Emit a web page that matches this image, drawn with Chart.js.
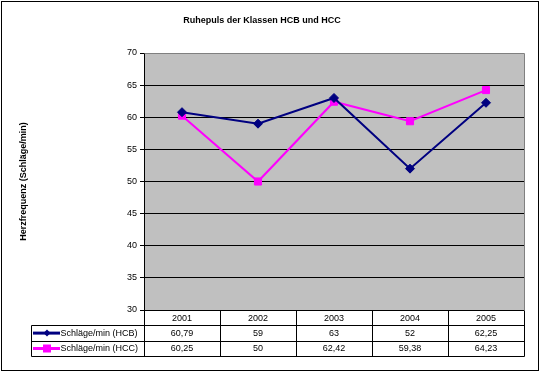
<!DOCTYPE html>
<html>
<head>
<meta charset="utf-8">
<script src="https://cdn.jsdelivr.net/npm/chart.js@4"></script>
<style>
  body { margin: 0; background: #fff; }
</style>
</head>
<body>
<canvas id="chart" width="540" height="374"></canvas>
<script>
// Data
const years = ['2001', '2002', '2003', '2004', '2005'];
const hcb = [60.79, 59, 63, 52, 62.25];
const hcc = [60.25, 50, 62.42, 59.38, 64.23];
const seriesNames = ['Schläge/min (HCB)', 'Schläge/min (HCC)'];
const yMin = 30, yMax = 70, yStep = 5;

const FONT = "'Liberation Sans', Arial, sans-serif";
const fmt = v => String(v).replace('.', ',');

// Excel style: grey plot area, data table under the chart
const excelFrame = {
    id: 'excelFrame',
    beforeDraw: (chart) => {
        const { ctx, chartArea: a } = chart;
        ctx.save();
        ctx.fillStyle = '#C0C0C0';
        ctx.fillRect(a.left, a.top, a.width, a.height);
        ctx.restore();
    },
    afterDraw: (chart) => {
        const { ctx, chartArea: a } = chart;
        const px = v => Math.round(v) + 0.5;
        ctx.save();

        // grey border top/right of plot area
        ctx.strokeStyle = '#808080';
        ctx.lineWidth = 1;
        ctx.beginPath();
        ctx.moveTo(px(a.left), px(a.top));
        ctx.lineTo(px(a.right), px(a.top));
        ctx.lineTo(px(a.right), px(a.bottom));
        ctx.stroke();

        // data table
        const rowH = 15.4;
        const tableLeft = 31;
        const y0 = a.bottom, y1 = y0 + rowH, y2 = y1 + rowH, y3 = y2 + rowH;
        const colW = a.width / years.length;

        ctx.strokeStyle = '#000';
        ctx.beginPath();
        [y1, y2, y3].forEach(y => {
            ctx.moveTo(px(tableLeft), px(y));
            ctx.lineTo(px(a.right), px(y));
        });
        ctx.moveTo(px(tableLeft), px(y1));
        ctx.lineTo(px(tableLeft), px(y3));
        for (let i = 0; i <= years.length; i++) {
            const x = px(a.left + i * colW);
            ctx.moveTo(x, px(y0));
            ctx.lineTo(x, px(y3));
        }
        ctx.stroke();

        ctx.fillStyle = '#000';
        ctx.font = '9px ' + FONT;
        ctx.textAlign = 'center';
        ctx.textBaseline = 'middle';
        const xs = chart.scales.x;
        years.forEach((yr, i) => {
            const cx = xs.getPixelForValue(i);
            ctx.fillText(yr, cx, y0 + rowH / 2 + 0.5);
            ctx.fillText(fmt(hcb[i]), cx, y1 + rowH / 2 + 0.5);
            ctx.fillText(fmt(hcc[i]), cx, y2 + rowH / 2 + 0.5);
        });

        // legend keys inside the table
        chart.data.datasets.forEach((ds, i) => {
            const cy = (i === 0 ? y1 : y2) + rowH / 2;
            ctx.strokeStyle = ds.borderColor;
            ctx.lineWidth = 3;
            ctx.beginPath();
            ctx.moveTo(33, cy);
            ctx.lineTo(60, cy);
            ctx.stroke();
            ctx.fillStyle = ds.borderColor;
            ctx.beginPath();
            if (ds.pointStyle === 'rectRot') {
                ctx.moveTo(47, cy - 3.5);
                ctx.lineTo(50.5, cy);
                ctx.lineTo(47, cy + 3.5);
                ctx.lineTo(43.5, cy);
                ctx.closePath();
            } else {
                ctx.rect(43, cy - 4, 8, 8);
            }
            ctx.fill();
            ctx.fillStyle = '#000';
            ctx.textAlign = 'left';
            ctx.fillText(seriesNames[i], 60.5, cy + 0.5);
        });

        // outer chart border
        ctx.strokeStyle = '#000';
        ctx.lineWidth = 1;
        ctx.strokeRect(1.5, 1.5, 537, 369);
        ctx.restore();
    }
};

new Chart(document.getElementById('chart'), {
    type: 'line',
    data: {
        labels: years,
        datasets: [{
            label: seriesNames[0],
            data: hcb,
            borderColor: '#000080',
            backgroundColor: '#000080',
            borderWidth: 2,
            pointStyle: 'rectRot',
            pointRadius: 4.5,
            pointBorderWidth: 1,
            tension: 0
        }, {
            label: seriesNames[1],
            data: hcc,
            borderColor: '#FF00FF',
            backgroundColor: '#FF00FF',
            borderWidth: 2,
            pointStyle: 'rect',
            pointRadius: 5,
            pointBorderWidth: 1,
            tension: 0
        }]
    },
    options: {
        responsive: false,
        animation: false,
        layout: { padding: { left: 0, right: 16, top: 0, bottom: 64 } },
        plugins: {
            legend: { display: false },
            tooltip: { enabled: false },
            title: {
                display: true,
                text: 'Ruhepuls der Klassen HCB und HCC',
                color: '#000',
                font: { family: FONT, size: 9, weight: 'bold' },
                padding: { top: 15, bottom: 27.2 }
            }
        },
        scales: {
            x: {
                display: false,
                offset: true
            },
            y: {
                min: yMin,
                max: yMax,
                ticks: {
                    stepSize: yStep,
                    padding: 3,
                    color: '#000',
                    font: { family: FONT, size: 9 }
                },
                grid: {
                    color: c => c.tick && c.tick.value === yMax ? '#808080' : '#000',
                    tickColor: '#000',
                    tickLength: 4
                },
                border: { color: '#000' },
                title: {
                    display: true,
                    text: 'Herzfrequenz (Schläge/min)',
                    color: '#000',
                    font: { family: FONT, size: 9, weight: 'bold' },
                    padding: { top: 18 }
                },
                afterFit: (scale) => { scale.width = 144; }
            }
        }
    },
    plugins: [excelFrame]
});
</script>
</body>
</html>
